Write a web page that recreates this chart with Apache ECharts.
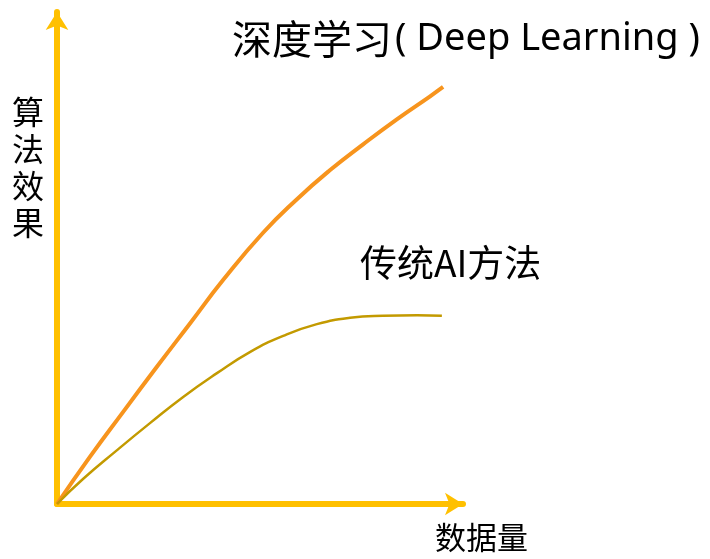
<!DOCTYPE html>
<html><head><meta charset="utf-8">
<script src="https://cdn.jsdelivr.net/npm/echarts@6/dist/echarts.min.js"></script>
<style>html,body{margin:0;padding:0;background:#fff}#c{width:710px;height:559px}</style>
</head><body><div id="c"></div>
<script>
// Data amount (x, 0-100) and algorithm effect (y, 0-100)
const dlX = [0, 8.1, 16.3, 24.6, 32.8, 40.9, 50.7, 59.1, 67.2, 75.4, 83.7, 91.9, 95.1];
const dlY = [0, 9.6, 18.8, 28.0, 36.9, 45.7, 55.3, 62.2, 68.1, 73.4, 78.5, 83.2, 85.1];
const aiX = [0, 6.4, 14.8, 22.9, 31.0, 39.4, 47.5, 55.7, 64.0, 72.2, 80.3, 88.7, 94.8];
const aiY = [0, 5.1, 11.0, 16.5, 21.8, 26.7, 31.0, 34.3, 36.7, 38.0, 38.4, 38.5, 38.4];
const dlNameCn = '深度学习';
const dlNameEn = '( Deep Learning )';
const aiName = '传统AI方法';
const xName = '数据量';
const yName = '算法效果';

const font = '"Noto Sans CJK SC", "Noto Sans", sans-serif';
const chart = echarts.init(document.getElementById('c'));
chart.setOption({
  animation: false,
  grid: {left: 57, right: 247, top: 12, bottom: 55},
  xAxis: {
    type: 'value', min: 0, max: 100,
    axisLine: {lineStyle: {color: '#FFC000', width: 6}, symbol: ['none', 'arrow'], symbolSize: [17, 18]},
    axisTick: {show: false}, axisLabel: {show: false}, splitLine: {show: false}
  },
  yAxis: {
    type: 'value', min: 0, max: 100.4,
    axisLine: {show: true, lineStyle: {color: '#FFC000', width: 6}, symbol: ['none', 'arrow'], symbolSize: [17, 18]},
    axisTick: {show: false}, axisLabel: {show: false}, splitLine: {show: false}
  },
  series: [
    {name: dlNameCn + dlNameEn, type: 'line', smooth: 0.5, showSymbol: false,
     lineStyle: {color: '#F7941D', width: 4},
     data: dlX.map((x, i) => [x, dlY[i]])},
    {name: aiName, type: 'line', smooth: 0.5, showSymbol: false,
     lineStyle: {color: '#C39A00', width: 2.5},
     data: aiX.map((x, i) => [x, aiY[i]])}
  ],
  graphic: [
    {type: 'text', left: 232, top: 19, style: {
      text: '{a|' + dlNameCn + '}{b|' + dlNameEn + '}',
      rich: {a: {font: '40px ' + font, fill: '#000'}, b: {font: '38px "Noto Sans", sans-serif', fill: '#000', padding: [0, 0, 0, 3]}}
    }},
    {type: 'text', left: 360, top: 244, style: {text: aiName, font: '37px ' + font, fill: '#000'}},
    {type: 'text', left: 435, top: 522, style: {text: xName, font: '31px ' + font, fill: '#000'}},
    {type: 'text', left: 12, top: 93, style: {text: yName.split('').join('\n'), font: '32px ' + font, lineHeight: 37, fill: '#000'}}
  ]
});
</script></body></html>
